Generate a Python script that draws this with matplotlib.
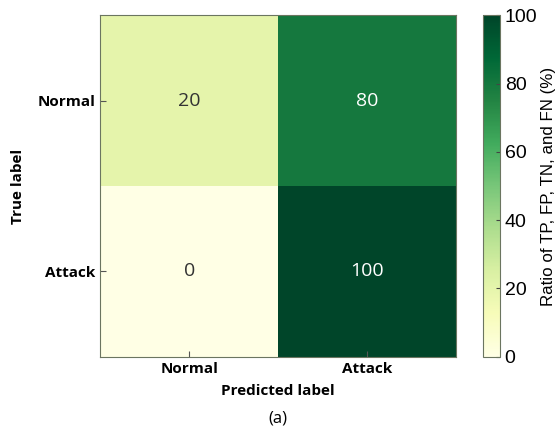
import matplotlib
matplotlib.use("Agg")
import matplotlib.pyplot as plt
import numpy as np

# Confusion matrix in percent (rows: true label, cols: predicted label)
classes = ["Normal", "Attack"]
ratios = np.array([[20, 80],
                   [0, 100]])

fig = plt.figure(figsize=(5.6, 4.34), dpi=100)
ax = fig.add_axes([0.179, 0.178, 0.635, 0.787])
cax = fig.add_axes([0.8625, 0.178, 0.030, 0.787])

im = ax.imshow(ratios, cmap="YlGn", vmin=0, vmax=100, aspect="auto")

for i in range(len(classes)):
    for j in range(len(classes)):
        val = ratios[i, j]
        ax.text(j, i, f"{val}", ha="center", va="center", fontsize=14,
                family="Open Sans", color="white" if val > 50 else "#333333")

ax.set_xticks(range(len(classes)))
ax.set_yticks(range(len(classes)))
ax.set_xticklabels(classes, family="Open Sans", fontweight="bold", fontsize=11)
ax.set_yticklabels(classes, family="Open Sans", fontweight="bold", fontsize=11)
ax.tick_params(direction="in", length=4, color="#555555")
ax.set_xlabel("Predicted label", family="Open Sans", fontweight="bold", fontsize=11, labelpad=6)
ax.set_ylabel("True label", family="Open Sans", fontweight="bold", fontsize=11, labelpad=9)
for s in ax.spines.values():
    s.set_color("#6b7560")

cb = fig.colorbar(im, cax=cax, ticks=[0, 20, 40, 60, 80, 100])
cb.ax.tick_params(direction="in", length=3, labelsize=14, color="#444444")
for t in cb.ax.get_yticklabels():
    t.set_family("Liberation Sans")
cb.set_label("Ratio of TP, FP, TN, and FN (%)", family="Liberation Sans", fontsize=12.2, labelpad=3)
cb.outline.set_edgecolor("#6b7560")

fig.text(0.496, 0.036, "(a)", ha="center", va="center", family="Open Sans", fontsize=12)

fig.savefig("out.png", dpi=100)
